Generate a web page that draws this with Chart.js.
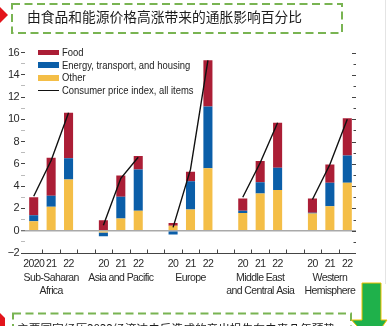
<!DOCTYPE html>
<html>
<head>
<meta charset="utf-8">
<script src="https://cdn.jsdelivr.net/npm/chart.js@4.4.1/dist/chart.umd.min.js"></script>
<style>
  html, body { margin: 0; padding: 0; background: #fff; }
  #wrap { position: relative; width: 391px; height: 326px; overflow: hidden;
          font-family: 'Liberation Sans', Arial, sans-serif; }
  #chart { position: absolute; left: 0; top: 0; }
  #deco { position: absolute; left: 0; top: 0; }
  .cjk { position: absolute; font-family: 'Noto Sans CJK SC', sans-serif; color: #1c1c1c; white-space: nowrap; }
  #title { left: 27px; top: 9px; font-size: 13.75px; line-height: 14px; }
  #note { left: 17px; top: 320.5px; font-size: 11.7px; line-height: 13px; }
  #legend { position: absolute; left: 38px; top: 46px; font-size: 11.5px; color: #222; }
  .row { position: relative; height: 12.7px; line-height: 12.7px; padding-left: 23.5px; white-space: nowrap; }
  .row .tx { display: inline-block; transform: scaleX(0.82); transform-origin: 0 50%; }
  .sw { position: absolute; left: 0; top: 3.6px; width: 21px; height: 5.6px; }
  .ln { position: absolute; left: 0; top: 5.6px; width: 21px; height: 1.5px; background: #111; }
</style>
</head>
<body>
<div id="wrap">
  <canvas id="chart" width="391" height="326"></canvas>
  <svg id="deco" width="391" height="326">
    <polygon points="0,7 8,15 0,23" fill="#e3141b"/>
    <rect x="12" y="4" width="330" height="29" fill="none" stroke="#79b452" stroke-width="2" stroke-dasharray="8 4.5"/>
    <line x1="385.5" y1="0" x2="385.5" y2="284" stroke="#e4e4e4" stroke-width="1"/>
    <polygon points="0,313 5,318 5,326 0,326" fill="#e3141b"/>
    <rect x="13" y="313.5" width="338" height="40" fill="none" stroke="#79b452" stroke-width="2" stroke-dasharray="8 4.5"/>
    <polygon points="362,283 381,283 381,320 387,320 371.5,342 351.5,320 362,320" fill="#1fb14b" stroke="#f2c200" stroke-width="1"/>
  </svg>
  <div id="title" class="cjk">由食品和能源价格高涨带来的通胀影响百分比</div>
  <div id="note" class="cjk">主要国家经历2022经济冲击后造成的产出损失在未来几年预势</div>
  <div id="legend"></div>
</div>
<script>
// one slot per year, with an empty slot between regions
const years = ['2020', '21', '22', '', '20', '21', '22', '', '20', '21', '22', '',
               '20', '21', '22', '', '20', '21', '22'];
const regions = [['Sub-Saharan', 'Africa'], ['Asia and Pacific'], ['Europe'],
                 ['Middle East', 'and Central Asia'], ['Western', 'Hemisphere']];

// contributions to inflation, percentage points
const other  = [0.85, 2.15, 4.6, null, -0.15, 1.1, 1.8, null, 0.45, 1.9, 5.6, null,
                1.6, 3.35, 3.65, null, 1.55, 2.2, 4.3];
const energy = [0.55, 1.0, 1.9, null, -0.35, 1.95, 3.7, null, -0.33, 2.55, 5.55, null,
                0.2, 1.0, 2.0, null, 0.07, 2.1, 2.45];
const food   = [1.6, 3.4, 4.1, null, 0.95, 1.9, 1.2, null, 0.25, 0.85, 4.15, null,
                1.1, 1.9, 4.05, null, 1.28, 1.65, 3.35];
const cpi    = [3.1, 6.3, 10.6, null, 0.5, 4.7, 6.6, null, 0.3, 5.5, 15.3, null,
                3.0, 6.1, 9.7, null, 2.8, 5.95, 10.0];

const yTicks = [-2, 0, 2, 4, 6, 8, 10, 12, 14, 16];

const seriesNames = ['Food', 'Energy, transport, and housing', 'Other', 'Consumer price index, all items'];
const colors = { food: '#ab1e36', energy: '#0b5ea8', other: '#f4be47', cpi: '#111' };

// region name goes under the middle year of each group
const labels = years.map((yr, i) => {
  const g = Math.floor(i / 4);
  return i % 4 === 1 ? [yr, ...regions[g]] : [yr];
});

// html legend
const legendEl = document.getElementById('legend');
[colors.food, colors.energy, colors.other, null].forEach((c, i) => {
  const row = document.createElement('div');
  row.className = 'row';
  const mark = document.createElement('span');
  if (c) { mark.className = 'sw'; mark.style.background = c; } else { mark.className = 'ln'; }
  const tx = document.createElement('span');
  tx.className = 'tx';
  tx.textContent = seriesNames[i];
  row.appendChild(mark);
  row.appendChild(tx);
  legendEl.appendChild(row);
});

// tighter letters on the canvas text, closer to a narrow face
const narrowText = {
  id: 'narrowText',
  beforeDraw(chart) { chart.ctx.letterSpacing = '-0.6px'; }
};

// x axis line with small ticks pointing up at slot edges, and inward ticks on the right edge
const innerTicks = {
  id: 'innerTicks',
  afterDraw(chart) {
    const { ctx, chartArea: a, scales: { x, y } } = chart;
    ctx.save();
    ctx.strokeStyle = '#444';
    ctx.lineWidth = 1;
    ctx.beginPath();
    const by = Math.round(a.bottom) + 0.5;
    ctx.moveTo(a.left, by);
    ctx.lineTo(a.right, by);
    for (let i = 1; i < labels.length; i++) {
      const px = Math.round(x.getPixelForValue(i - 0.5)) + 0.5;
      ctx.moveTo(px, by);
      ctx.lineTo(px, by - 4);
    }
    for (let v = -1; v <= 16; v++) {
      const py = Math.round(y.getPixelForValue(v)) + 0.5;
      ctx.moveTo(a.right, py);
      ctx.lineTo(a.right - (v % 2 === 0 ? 4 : 2.5), py);
    }
    ctx.stroke();
    ctx.restore();
  }
};

const tickFont = { family: "'Liberation Sans', Arial, sans-serif", size: 10.5, lineHeight: 1.25 };

new Chart(document.getElementById('chart'), {
  data: {
    labels: labels,
    datasets: [
      { type: 'bar', label: seriesNames[2], data: other, backgroundColor: colors.other, stack: 'parts', order: 2 },
      { type: 'bar', label: seriesNames[1], data: energy, backgroundColor: colors.energy, stack: 'parts', order: 2 },
      { type: 'bar', label: seriesNames[0], data: food, backgroundColor: colors.food, stack: 'parts', order: 2 },
      { type: 'line', label: seriesNames[3], data: cpi, borderColor: colors.cpi, borderWidth: 1.4,
        pointRadius: 0, spanGaps: false, stack: 'cpi', order: 1 }
    ]
  },
  options: {
    responsive: false,
    animation: false,
    layout: { padding: { top: 52.5, right: 35, bottom: 0, left: 0 } },
    datasets: { bar: { barPercentage: 0.52, categoryPercentage: 1, borderWidth: 0 } },
    plugins: { legend: { display: false }, tooltip: { enabled: false } },
    scales: {
      x: {
        stacked: true,
        offset: true,
        border: { display: false },
        grid: { display: false },
        ticks: { autoSkip: false, maxRotation: 0, minRotation: 0, padding: -3, color: '#2a2a2a', font: tickFont },
        afterFit(scale) { scale.height = 73; scale.paddingLeft = 0; scale.paddingRight = 0; }
      },
      y: {
        stacked: true,
        min: -2,
        max: 16,
        border: { display: false },
        grid: {
          drawOnChartArea: true,
          color: c => (c.tick && c.tick.value === 0 ? '#a9a9a9' : 'rgba(0,0,0,0)'),
          lineWidth: c => (c.tick && c.tick.value === 0 ? 1.5 : 1),
          tickColor: c => (c.tick && c.tick.value % 2 === 0 ? '#444' : '#bbb'),
          tickWidth: 1,
          tickLength: 4
        },
        ticks: {
          stepSize: 1,
          autoSkip: false,
          padding: 2,
          color: '#2a2a2a',
          font: { family: tickFont.family, size: 11 },
          callback: v => (yTicks.includes(v) ? (v < 0 ? '\u2212' + Math.abs(v) : String(v)) : '')
        },
        afterFit(scale) { scale.width = 25; scale.paddingTop = 0; scale.paddingBottom = 0; }
      }
    }
  },
  plugins: [narrowText, innerTicks]
});
</script>
</body>
</html>
